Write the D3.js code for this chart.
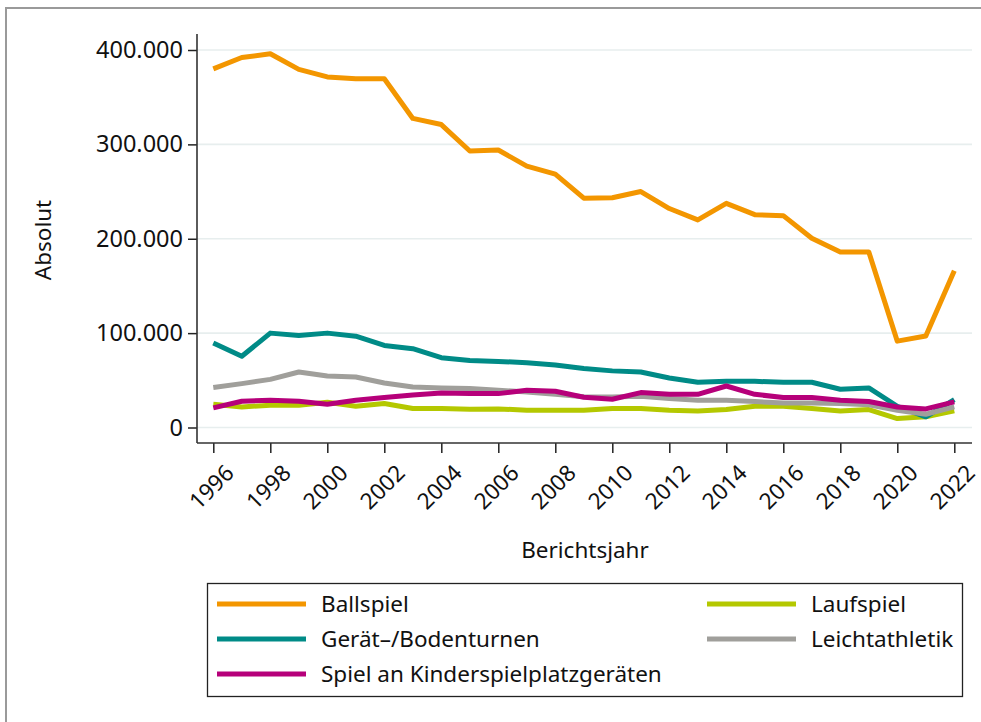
<!DOCTYPE html>
<html>
<head>
<meta charset="utf-8">
<script src="https://cdn.jsdelivr.net/npm/d3@7"></script>
<style>
  body { margin: 0; background: #fff; }
  svg text { font-family: "Noto Sans", "Open Sans", sans-serif; fill: #111; }
</style>
</head>
<body>
<div id="chart"></div>
<script>
// Berichtsjahre
const years = d3.range(1996, 2023);

// Werte je Unfallart
const ballspiel = [380000, 392000, 396000, 379500, 371500, 369500, 369500, 327500, 321000, 293000,
  294000, 277000, 268500, 243000, 243500, 250000, 232000, 220000, 237500, 225500,
  224500, 200500, 186000, 186000, 91500, 97000, 166000];
const geraet = [89500, 75500, 100000, 97500, 100000, 96800, 87000, 83500, 74000, 71000,
  70000, 68700, 66200, 62500, 60000, 58800, 52500, 47900, 48900, 48900,
  47900, 47900, 40500, 41900, 22500, 11300, 29600];
const laufspiel = [24600, 21800, 23600, 23600, 26800, 22500, 25400, 20100, 20100, 19400,
  19700, 18300, 18300, 18300, 20100, 20100, 18300, 17600, 19000, 22500,
  22500, 20100, 17600, 19000, 9500, 11300, 17600];
const leichtathletik = [42300, 46500, 51000, 58800, 54600, 53500, 47200, 43000, 41900, 41200,
  39400, 37700, 35200, 32700, 32400, 33000, 30600, 28900, 28900, 27500,
  26000, 26000, 25400, 24000, 18300, 14000, 21800];
const spielplatz = [20800, 27800, 28900, 27800, 24600, 28900, 31700, 34500, 36600, 35900,
  35900, 39400, 38400, 32000, 29900, 37000, 35200, 35200, 44000, 35200,
  31700, 31700, 28900, 27500, 21800, 19700, 27100];

const seriesNames = ['Ballspiel', 'Laufspiel', 'Gerät–/Bodenturnen', 'Leichtathletik', 'Spiel an Kinderspielplatzgeräten'];
const seriesValues = [ballspiel, laufspiel, geraet, leichtathletik, spielplatz];
const seriesColors = ['#F39600', '#B4C800', '#008B87', '#A09F9B', '#B6007A'];

const yTicks = [0, 100000, 200000, 300000, 400000];
const xTicks = d3.range(1996, 2023, 2);

const width = 981;
const height = 722;

const de = d3.formatLocale({ decimal: ',', thousands: '.', grouping: [3], currency: ['', ' €'] });
const fmt = de.format(',');

const svg = d3.select('#chart').append('svg')
  .attr('width', width)
  .attr('height', height);

// Rahmen
svg.append('rect')
  .attr('x', 6).attr('y', 8)
  .attr('width', width + 10).attr('height', height + 10)
  .attr('fill', 'none')
  .attr('stroke', '#9a9a9a')
  .attr('stroke-width', 2);

const x = d3.scaleLinear().domain([1996, 2022]).range([213.3, 954.3]);
const y = d3.scaleLinear().domain([0, 400000]).range([427.5, 50]);

const plot = { left: 197, right: 972, top: 34, bottom: 443 };

// gridlines
svg.append('g')
  .attr('class', 'gridlines')
  .selectAll('line').data(yTicks).join('line')
  .attr('x1', plot.left).attr('x2', plot.right)
  .attr('y1', d => y(d)).attr('y2', d => y(d))
  .attr('stroke', '#e7eeee')
  .attr('stroke-width', 1.6);

// Linien
const line = d3.line()
  .x((d, i) => x(years[i]))
  .y(d => y(d));

svg.append('g').attr('class', 'lines')
  .selectAll('path').data(seriesValues).join('path')
  .attr('d', d => line(d))
  .attr('fill', 'none')
  .attr('stroke', (d, i) => seriesColors[i])
  .attr('stroke-width', 5)
  .attr('stroke-linejoin', 'round');

// Y-Achse
const yAxis = svg.append('g')
  .attr('transform', `translate(${plot.left},0)`)
  .call(d3.axisLeft(y).tickValues(yTicks).tickFormat(fmt).tickSize(9).tickPadding(5));
yAxis.select('.domain').remove();
yAxis.selectAll('.tick line').attr('stroke', '#222').attr('stroke-width', 1.5);
yAxis.selectAll('.tick text').attr('font-size', 23.5).attr('font-family', '"Noto Sans", sans-serif').attr('fill', '#111');
svg.append('line')
  .attr('x1', plot.left).attr('x2', plot.left)
  .attr('y1', plot.top).attr('y2', plot.bottom)
  .attr('stroke', '#333').attr('stroke-width', 1.6);

// X-Achse
const xAxis = svg.append('g')
  .attr('transform', `translate(0,${plot.bottom})`)
  .call(d3.axisBottom(x).tickValues(xTicks).tickFormat(d3.format('d')).tickSize(10).tickPadding(4));
xAxis.select('.domain').remove();
xAxis.selectAll('.tick line').attr('stroke', '#222').attr('stroke-width', 1.5);
xAxis.selectAll('.tick text')
  .attr('font-size', 22.5)
  .attr('font-family', '"Noto Sans", sans-serif')
  .attr('fill', '#111')
  .attr('text-anchor', 'end')
  .attr('dy', '0.35em')
  .attr('transform', 'translate(6,16) rotate(-45)');
svg.append('line')
  .attr('x1', plot.left).attr('x2', plot.right)
  .attr('y1', plot.bottom).attr('y2', plot.bottom)
  .attr('stroke', '#333').attr('stroke-width', 1.6);

// Achsentitel
svg.append('text')
  .attr('transform', 'translate(51,240) rotate(-90)')
  .attr('text-anchor', 'middle')
  .attr('font-size', 22.5)
  .text('Absolut');
svg.append('text')
  .attr('x', 585).attr('y', 558)
  .attr('text-anchor', 'middle')
  .attr('font-size', 22.5)
  .text('Berichtsjahr');

// Legende
const legend = svg.append('g').attr('class', 'legend');
legend.append('rect')
  .attr('x', 207.5).attr('y', 583.5)
  .attr('width', 755).attr('height', 113)
  .attr('fill', '#fff')
  .attr('stroke', '#222')
  .attr('stroke-width', 1.3);

const legendPos = [
  { col: 0, row: 0 }, { col: 1, row: 0 },
  { col: 0, row: 1 }, { col: 1, row: 1 },
  { col: 0, row: 2 }
];
const colX = [217, 707];
const items = legend.selectAll('g.item').data(seriesNames).join('g')
  .attr('class', 'item')
  .attr('transform', (d, i) => `translate(${colX[legendPos[i].col]},${604 + legendPos[i].row * 35})`);
items.append('line')
  .attr('x1', 0).attr('x2', 89)
  .attr('y1', 0).attr('y2', 0)
  .attr('stroke', (d, i) => seriesColors[i])
  .attr('stroke-width', 5);
items.append('text')
  .attr('x', 104).attr('y', 0)
  .attr('dy', '0.35em')
  .attr('font-size', 22.5)
  .text(d => d);
</script>
</body>
</html>
